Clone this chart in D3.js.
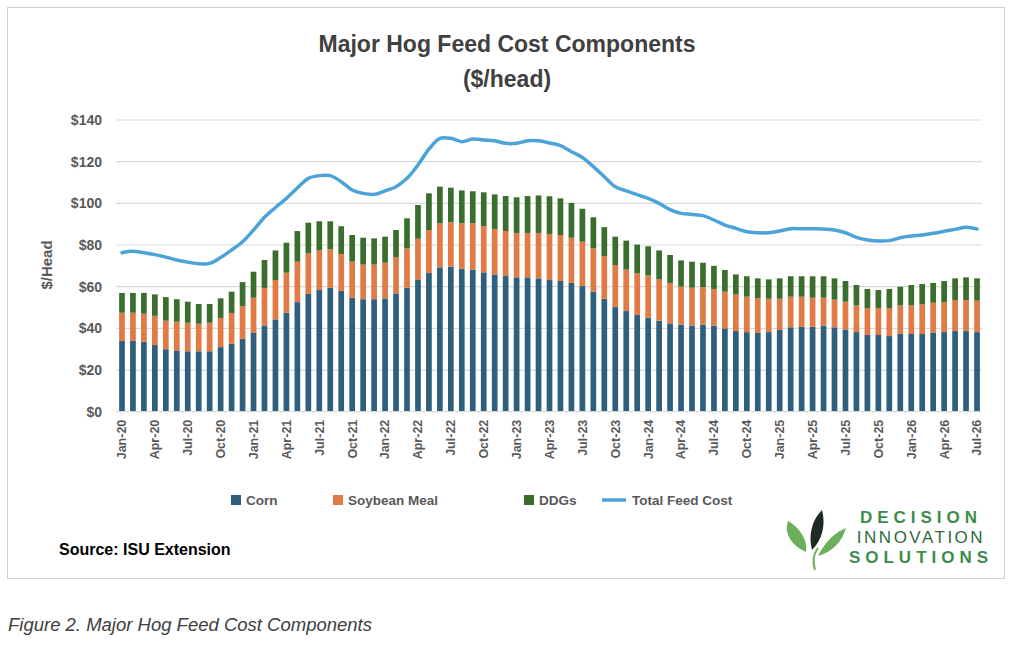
<!DOCTYPE html>
<html><head><meta charset="utf-8">
<script src="https://cdn.jsdelivr.net/npm/d3@7"></script>
<style>body{margin:0;background:#fff;font-family:Arial,"Liberation Sans",sans-serif}</style>
</head><body><svg id="c" width="1024" height="646"></svg>
<script>
const monthNames=["Jan","Feb","Mar","Apr","May","Jun","Jul","Aug","Sep","Oct","Nov","Dec"];
const categories=[];
for(let y=20;y<=26;y++)for(let m=0;m<12;m++){if(y===26&&m>6)break;categories.push(monthNames[m]+"-"+y);}
const tickLabels=categories.filter((d,i)=>i%3===0);
const corn=[34,34,33.6,32,30,29.4,29,29,29,31,32.6,35,37.8,41.4,44.3,47.5,52.6,56.6,58.4,59.4,58,54.7,54,54,54.4,56.8,59.5,63.2,66.6,69.3,69.6,68.6,68.2,66.9,65.9,65.1,64.5,64.5,64,63.2,62.7,61.8,60.3,57.6,54.2,50.2,48.3,46.4,45.1,43.7,42.4,41.8,41.3,41.8,41.3,40,38.7,38.2,37.8,38.2,39.2,40.5,40.8,40.8,41.3,40.5,39.5,38.2,36.8,36.8,36.3,37.3,37.3,37.3,37.8,38.2,38.7,38.7,38.2];
const cornSoy=[47.5,47.5,47,46,43.7,43.2,42.7,42.2,42.7,45,47.4,50.6,54.7,59.4,63.2,66.7,72,76,77.4,78,75.7,72,70.6,70.6,71.5,74.2,78.4,83,87.2,90.4,90.9,90.4,90.4,89.1,87.7,86.7,85.8,85.8,85.8,85.3,84.8,83.5,81.6,78.4,74.7,70.4,68.2,66.4,65.4,63.5,61.8,60,59.5,59.8,58.9,57.6,56.2,55.2,54.4,54.2,54.2,55.2,55.2,54.7,54.7,53.8,52.8,51,49.8,49.8,49.8,51,51,51.5,52.3,52.5,53.6,53.6,53.3];
const stackTotal=[57,57,57,56.3,55,54,52.8,51.7,51.7,54.4,57.6,62.2,67.2,72.8,77.4,81.1,86.7,90.7,91.4,91.4,89,84.8,83.5,83.2,84,87.2,92.8,99.2,104.8,108,107.5,106.2,105.8,105.3,104.3,103.5,102.9,103.5,103.8,103.4,102.4,100.2,97.4,93.3,88.6,84,82.1,80.2,79.4,77.4,75.2,72.6,72,71.5,70,68,65.9,65,64,63.5,64,65,65,65,65,64,62.7,60.8,58.9,58.4,58.9,60,60.8,61.3,61.8,62.7,64,64.5,64];
const totalFeedCost=[76.3,77,76.3,75.4,74.2,72.8,71.8,71,71.2,74,77.6,81.6,87.2,93.3,98,102.4,107.4,112,113.3,113.3,110.4,106.4,104.8,104.3,106,108,112,118.4,126,131.2,131.2,129.6,130.9,130.4,130,128.8,128.8,130,130,129,127.7,124.8,122,117.6,112.8,108,106,104.2,102.4,100,97,95.2,94.7,94.1,92,89.6,88,86.4,85.9,85.9,86.7,87.8,87.8,87.8,87.7,87.2,85.9,83.7,82.4,81.9,82.1,83.5,84.3,84.8,85.6,86.6,87.5,88.5,87.7];
const yTicks=[0,20,40,60,80,100,120,140];
const seriesNames=["Corn","Soybean Meal","DDGs","Total Feed Cost"];
const colors=["#2E5F7F","#E07B45","#3A6E2D","#4BA3D8"];

const svg=d3.select("#c");
svg.append("rect").attr("x",7.5).attr("y",7.5).attr("width",997).attr("height",571).attr("fill","none").attr("stroke","#d0d0d0");
svg.append("text").attr("x",507).attr("y",52).attr("text-anchor","middle").attr("font-size",23).attr("font-weight","bold").attr("fill","#404040").text("Major Hog Feed Cost Components");
svg.append("text").attr("x",507).attr("y",87).attr("text-anchor","middle").attr("font-size",23).attr("font-weight","bold").attr("fill","#404040").text("($/head)");

const x=d3.scaleBand().domain(categories).range([116.5,982.5]).paddingInner(0.48).paddingOuter(0.24);
const y=d3.scaleLinear().domain([0,140]).range([411.7,120]);
const g=svg.append("g");
yTicks.forEach(t=>{if(t>0)g.append("line").attr("x1",116).attr("x2",982).attr("y1",y(t)).attr("y2",y(t)).attr("stroke","#d9d9d9").attr("stroke-width",1.2);});
const yAx=svg.append("g").attr("transform","translate(116,0)").call(d3.axisLeft(y).tickValues(yTicks).tickFormat(d=>"$"+d).tickSize(0).tickPadding(14));
yAx.select(".domain").remove();
yAx.selectAll("text").attr("font-size",14).attr("font-weight","bold").attr("fill","#595959").attr("font-family","Arial,'Liberation Sans',sans-serif");
svg.append("text").attr("transform","translate(52,265) rotate(-90)").attr("text-anchor","middle").attr("font-size",15).attr("font-weight","bold").attr("fill","#595959").text("$/Head");

const bw=x.bandwidth();
const layers=[categories.map((c,i)=>[0,corn[i]]),categories.map((c,i)=>[corn[i],cornSoy[i]]),categories.map((c,i)=>[cornSoy[i],stackTotal[i]])];
layers.forEach((L,k)=>{
 g.selectAll(null).data(L).enter().append("rect").attr("x",(d,i)=>x(categories[i])).attr("width",bw)
  .attr("y",d=>y(d[1])).attr("height",d=>y(d[0])-y(d[1])).attr("fill",colors[k]);
});
g.append("line").attr("x1",116).attr("x2",982).attr("y1",y(0)).attr("y2",y(0)).attr("stroke","#d9d9d9").attr("stroke-width",1.2);
const line=d3.line().x((d,i)=>x(categories[i])+bw/2).y(d=>y(d)).curve(d3.curveCatmullRom);
g.append("path").datum(totalFeedCost).attr("d",line).attr("fill","none").attr("stroke",colors[3]).attr("stroke-width",3.5).attr("stroke-linecap","round");

const xAx=svg.append("g").attr("transform","translate(0,411.7)").call(d3.axisBottom(x).tickValues(tickLabels).tickSize(0).tickPadding(0));
xAx.select(".domain").remove();
xAx.selectAll("text").attr("transform","rotate(-90)").attr("text-anchor","end").attr("dx","-8").attr("dy","0.35em").attr("x",0).attr("y",0)
  .attr("font-size",12.5).attr("font-weight","bold").attr("fill","#595959").attr("font-family","Arial,'Liberation Sans',sans-serif");

const leg=[231,333,524,602];
leg.forEach((lx,i)=>{
 if(i<3)svg.append("rect").attr("x",lx).attr("y",495).attr("width",10).attr("height",10).attr("fill",colors[i]);
 else svg.append("line").attr("x1",lx).attr("x2",lx+24).attr("y1",500).attr("y2",500).attr("stroke",colors[3]).attr("stroke-width",3.5);
 svg.append("text").attr("x",lx+(i<3?15:30)).attr("y",505).attr("font-size",13.5).attr("font-weight","bold").attr("fill","#595959").text(seriesNames[i]);
});
svg.append("text").attr("x",59).attr("y",555).attr("font-size",16).attr("font-weight","bold").attr("fill","#000").text("Source: ISU Extension");

// logo
const lg=svg.append("g");
lg.append("path").attr("d","M806,552 C790,545 784,532 788,521 C800,528 808,540 806,552Z").attr("fill","#6BAF5B");
lg.append("path").attr("d","M812,550 C808,535 812,520 822,510 C826,525 822,540 812,550Z").attr("fill","#1E2A22");
lg.append("path").attr("d","M818,556 C826,540 836,532 846,528 C842,542 832,552 818,556Z").attr("fill","#6BAF5B");
lg.append("path").attr("d","M815,570 C812,560 814,553 818,548").attr("stroke","#6BAF5B").attr("stroke-width",2).attr("fill","none");
[["DECISION",523],["INNOVATION",543],["SOLUTIONS",563]].forEach((t,i)=>{
 lg.append("text").attr("x",921).attr("y",t[1]).attr("text-anchor","middle").attr("font-size",17).attr("letter-spacing",i===1?"2.5":"5").attr("font-weight",i===1?"normal":"bold").attr("fill",i===1?"#2E6B3A":"#3C8C4A").text(t[0]);
});
svg.append("text").attr("x",8).attr("y",631).attr("font-size",18.5).attr("font-style","italic").attr("fill","#404040").text("Figure 2. Major Hog Feed Cost Components");
</script></body></html>
